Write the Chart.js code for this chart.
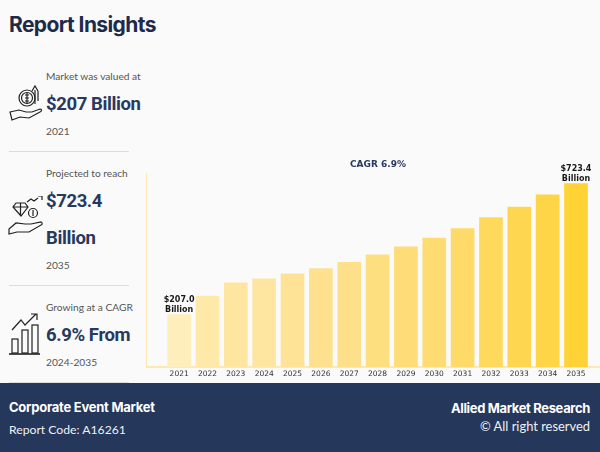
<!DOCTYPE html>
<html>
<head>
<meta charset="utf-8">
<title>Report Insights</title>
<script src="https://cdn.jsdelivr.net/npm/chart.js@4/dist/chart.umd.min.js"></script>
<style>
html, body { margin: 0; padding: 0; width: 600px; height: 452px; overflow: hidden; background: #fafafa; }
body { position: relative; font-family: Inter, sans-serif; }
.t { position: absolute; white-space: nowrap; line-height: 1; transform: translateY(-50%); }
.small { left: 46px; font-size: 10.2px; color: #555; font-family: Lato, sans-serif; }
.big { left: 46px; font-size: 18.5px; font-weight: 700; color: #27395f; letter-spacing: -0.4px; font-family: Roboto, sans-serif; }
.rule { position: absolute; left: 9px; width: 120px; height: 1px; background: #dcdcdc; }
svg { position: absolute; fill: none; stroke: #222; stroke-width: 1.2; }
#footer { position: absolute; left: 0; top: 383px; width: 600px; height: 69px; background: #25375b; }
#chart { position: absolute; left: 146px; top: 150px; }
</style>
</head>
<body>
<div class="t" style="left:9px;top:24px;font-size:21px;font-weight:700;color:#1e2a4a;letter-spacing:-0.6px">Report Insights</div>

<div class="t small" style="top:76px">Market was valued at</div>
<div class="t big" style="top:104px">$207 Billion</div>
<div class="t small" style="top:131px">2021</div>
<div class="rule" style="top:151px"></div>

<div class="t small" style="top:173px">Projected to reach</div>
<div class="t big" style="top:201px">$723.4</div>
<div class="t big" style="top:238px">Billion</div>
<div class="t small" style="top:265px">2035</div>
<div class="rule" style="top:285px"></div>

<div class="t small" style="top:307px">Growing at a CAGR</div>
<div class="t big" style="top:335px">6.9% From</div>
<div class="t small" style="top:362px">2024-2035</div>
<div class="rule" style="top:382px"></div>

<!-- hand + coin -->
<svg style="left:8px;top:82px" width="34" height="42" viewBox="0 0 34 42">
  <circle cx="19" cy="16" r="8"/><circle cx="19" cy="16" r="5.5"/>
  <path d="M17 13h4M17 16h4M17 19h4M19 11v10"/>
  <path d="M27 22V8M24 9l3-5 3 5M30 9v10"/>
  <path d="M2 30l9-2 7 2h6l8-3c2 0 2 2 0 3l-11 6-9-1-8 3z"/>
</svg>
<!-- hand + diamond -->
<svg style="left:8px;top:196px" width="36" height="44" viewBox="0 0 36 44">
  <path d="M8 7h9l3 4-7 9-8-9zM5 11h15M12.5 7v13"/>
  <path d="M19 6l4-3 3 2 4-3"/><path d="M30 0h4v4"/>
  <circle cx="25" cy="17" r="4.5"/><path d="M25 14v6"/>
  <path d="M1 38v-5l7-6 9 1h6l10-2c2 1 1 3 0 3l-12 7-12 0z"/>
</svg>
<!-- bars + arrow -->
<svg style="left:9px;top:312px" width="32" height="44" viewBox="0 0 32 44">
  <rect x="3" y="27" width="6" height="14"/><rect x="13" y="18" width="6" height="23"/><rect x="23" y="13" width="6" height="28"/>
  <path d="M0 42h31" stroke-width="1.6"/>
  <path d="M3 18l9-10 4 5 11-11M22 2h6v6"/>
</svg>

<canvas id="chart" width="464" height="232"></canvas>

<div id="footer"></div>
<div class="t" style="left:9px;top:407px;font-size:13px;font-weight:700;color:#fff;letter-spacing:-0.25px">Corporate Event Market</div>
<div class="t" style="left:9px;top:430px;font-size:12.2px;color:#eef0f4;font-family:Lato,sans-serif">Report Code: A16261</div>
<div class="t" style="right:10px;top:408px;font-size:13px;font-weight:700;color:#fff;letter-spacing:-0.35px">Allied Market Research</div>
<div class="t" style="right:10px;top:426px;font-size:12.9px;color:#eef0f4;font-family:Lato,sans-serif">© All right reserved</div>

<script>
const years = [2021, 2022, 2023, 2024, 2025, 2026, 2027, 2028, 2029, 2030, 2031, 2032, 2033, 2034, 2035]
const values = [207.0, 280, 332, 348, 367, 388, 413, 442, 474, 508, 546, 589, 631, 679, 723.4]
const barColors = ['#feeebc', '#fee9a9', '#fee6a0', '#fee5a0', '#fee397', '#fee18f', '#fee08a', '#fedf80', '#fedd78', '#fedc72', '#fedb68', '#fed95c', '#fed650', '#fed546', '#ffd235']
const labels = { 2021: ['$207.0', 'Billion'], 2035: ['$723.4', 'Billion'] }

const barLabels = {
    id: 'barLabels',
    afterDatasetsDraw(chart) {
        const ctx = chart.ctx
        const meta = chart.getDatasetMeta(0)
        ctx.save()
        ctx.font = 'bold 8px "DejaVu Sans"'
        ctx.fillStyle = '#1a1a1a'
        ctx.textAlign = 'center'
        years.forEach((y, i) => {
            if (!labels[y]) return
            const bar = meta.data[i]
            ctx.fillText(labels[y][0], bar.x, bar.y - 13)
            ctx.fillText(labels[y][1], bar.x, bar.y - 3)
        })
        ctx.restore()
    }
}

new Chart(document.querySelector('#chart'), {
    type: 'bar',
    data: {
        datasets: [{
            data: years.map((y, i) => ({ x: y, y: values[i] })),
            backgroundColor: barColors,
            barThickness: 23
        }]
    },
    options: {
        responsive: false,
        animation: false,
        devicePixelRatio: 1,
        layout: { padding: 0 },
        plugins: {
            legend: { display: false },
            tooltip: { enabled: false },
            title: {
                display: true,
                text: 'CAGR 6.9%',
                color: '#27395f',
                font: { family: 'DejaVu Sans', size: 9, weight: 'bold' },
                padding: { top: 9, bottom: 4 }
            }
        },
        scales: {
            x: {
                type: 'linear',
                offset: false,
                min: 2019.83,
                max: 2036.2,
                grid: { display: false, drawTicks: false },
                border: { color: '#fde9b0', width: 2 },
                ticks: {
                    stepSize: 1,
                    includeBounds: false,
                    autoSkip: false,
                    maxRotation: 0,
                    padding: 3,
                    color: '#333',
                    font: { family: 'DejaVu Sans', size: 7.5 },
                    callback: v => years.includes(v) ? String(v) : ''
                }
            },
            y: {
                min: 0,
                max: 762,
                grid: { display: false, drawTicks: false },
                border: { color: '#fde9b0', width: 2 },
                ticks: { display: false }
            }
        }
    },
    plugins: [barLabels]
})
</script>
</body>
</html>
